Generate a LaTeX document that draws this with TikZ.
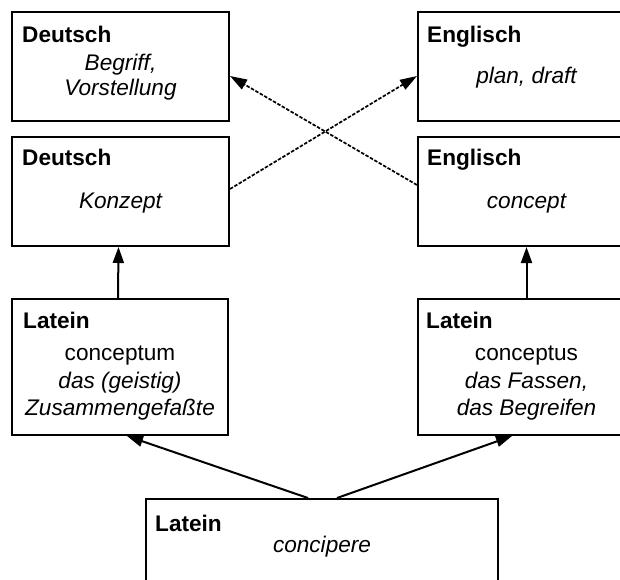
\documentclass[tikz,border=0pt]{standalone}
\usepackage{fontspec}
\setmainfont{Liberation Sans}
\usetikzlibrary{arrows.meta}
\begin{document}
\begin{tikzpicture}[x=1pt,y=-1pt,
  box/.style={draw, line width=2pt, rectangle, inner sep=0pt, minimum width=217pt, minimum height=109pt},
  headtext/.style={anchor=base west, font=\fontsize{22.6}{26}\selectfont\bfseries, inner sep=0pt},
  word/.style={anchor=base, font=\fontsize{22.6}{26}\selectfont\itshape, inner sep=0pt},
  uprighttext/.style={anchor=base, font=\fontsize{22.6}{26}\selectfont, inner sep=0pt},
  link/.style={line width=2pt, -{Triangle[length=16pt,width=11pt]}},
  loan/.style={line width=1.7pt, dash pattern=on 3.5pt off 1.6pt, -{Triangle[length=17pt,width=11pt]}}]
\useasboundingbox (0,0) rectangle (620,579);
\fill[white] (0,0) rectangle (620,579);
\clip (0,0) rectangle (620,579);
% boxes
\node[box] (A) at (120.5,66.5) {};
\node[box] (B) at (120.5,191.5) {};
\node[box] (C) at (526.5,66.5) {};
\node[box] (D) at (526.5,191.5) {};
\node[box, minimum width=216pt, minimum height=136pt] (E) at (120,367) {};
\node[box, minimum height=136pt] (F) at (526.5,367) {};
\node[box, minimum width=352pt, minimum height=141pt] (G) at (322,569.5) {};
% texts
\node[headtext] (At) at (22,42) {Deutsch};
\node[word] (A1) at (120.5,70) {Begriff,};
\node[word] (A2) at (120.5,95) {Vorstellung};
\node[headtext] (Bt) at (22,165) {Deutsch};
\node[word] (B1) at (120.5,208) {Konzept};
\node[headtext] (Ct) at (427,42) {Englisch};
\node[word] (C1) at (526.5,83) {plan, draft};
\node[headtext] (Dt) at (427,165) {Englisch};
\node[word] (D1) at (526.5,208) {concept};
\node[headtext] (Et) at (23,328) {Latein};
\node[uprighttext] (E1) at (120,360) {conceptum};
\node[word] (E2) at (120,388) {das (geistig)};
\node[word] (E3) at (120,415) {Zusammengefaßte};
\node[headtext] (Ft) at (426,328) {Latein};
\node[uprighttext] (F1) at (526.5,360) {conceptus};
\node[word] (F2) at (526.5,388) {das Fassen,};
\node[word] (F3) at (526.5,415) {das Begreifen};
\node[headtext] (Gt) at (155,531) {Latein};
\node[word] (G1) at (322,552) {concipere};
% connectors
\draw[link] ([xshift=-2pt]E.north) -- ([xshift=-2pt]B.south);
\draw[link] (F.north) -- (D.south);
\draw[link] ([xshift=-14pt]G.north) -- ([xshift=7pt]E.south);
\draw[link] ([xshift=15pt]G.north) -- ([xshift=-14.5pt]F.south);
\draw[loan] ([yshift=2.5pt]B.east) -- ([yshift=-9.5pt]C.west);
\draw[loan] ([yshift=6.5pt]D.west) -- ([yshift=-9.5pt]A.east);
\end{tikzpicture}
\end{document}
